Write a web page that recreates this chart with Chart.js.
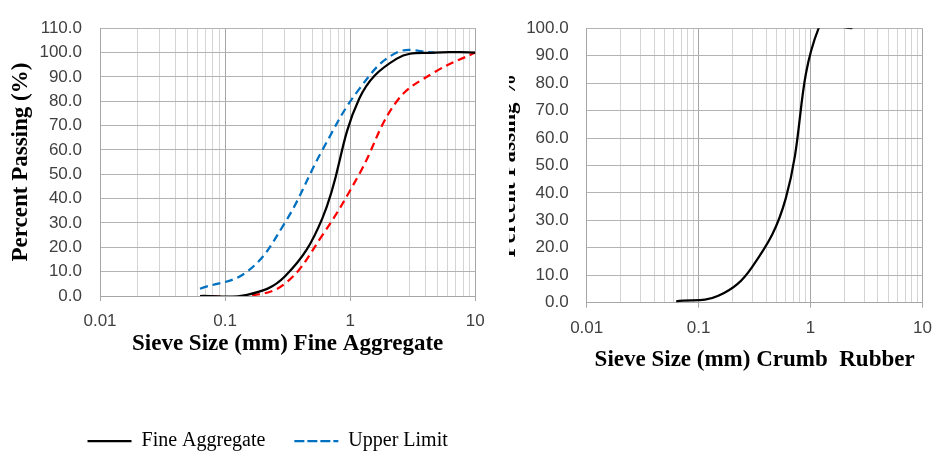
<!DOCTYPE html>
<html>
<head>
<meta charset="utf-8">
<script src="https://cdn.jsdelivr.net/npm/chart.js@4.4.0/dist/chart.umd.min.js"></script>
<style>
html, body { margin: 0; padding: 0; background: #fff; overflow: hidden; }
#wrap { position: relative; width: 942px; height: 454px; }
#chartFA { position: absolute; left: 0; top: 0; }
#chartCR { position: absolute; left: 509px; top: 0; }
</style>
</head>
<body>
<div id="wrap">
  <canvas id="chartFA" width="535" height="461"></canvas>
  <canvas id="chartCR" width="433" height="380"></canvas>
</div>
<script>
// sieve sizes (mm) and percent passing
var sieveFA     = [0.063, 0.15, 0.3, 0.6, 1.18, 2.36, 4.75, 10];
var fineAgg     = [0, 0.5, 8, 32, 81, 97.5, 100, 100];
var lowerLimit  = [0, 0, 5, 25, 50, 80, 92, 100];
var sieveUL     = [0.063, 0.15, 0.3, 0.6, 1.18, 2.36, 4.75];
var upperLimit  = [3, 10, 30, 60, 85, 100, 100];
var sieveCR     = [0.063, 0.15, 0.3, 0.6, 1.18, 2.36];
var crumbRubber = [0.5, 2.5, 13, 38, 100, 100];

var decades     = [0.01, 0.1, 1, 10];
var xTickLabels = ['0.01', '0.1', '1', '10'];

Chart.defaults.font.family = '"Liberation Sans", Arial, sans-serif';

function pts(xs, ys) {
    var out = [];
    for (var i = 0; i < xs.length; i++) out.push({x: xs[i], y: ys[i]});
    return out;
}

function isDecade(v) {
    for (var i = 0; i < decades.length; i++) {
        if (Math.abs(v - decades[i]) < decades[i] * 1e-6) return i;
    }
    return -1;
}

// 1..9 in every decade, like excel log axis gridlines
function logTicks(scale) {
    var t = [];
    for (var d = 0; d < decades.length - 1; d++) {
        for (var m = 1; m < 10; m++) t.push({value: +(decades[d] * m).toPrecision(4)});
    }
    t.push({value: decades[decades.length - 1]});
    scale.ticks = t;
}

var titleFont = {family: '"Liberation Serif", "Times New Roman", serif', size: 23, weight: 'bold'};
var tickFont  = {size: 17};

function xAxis(title, height, titlePad) {
    return {
        type: 'logarithmic',
        min: 0.01,
        max: 10,
        afterBuildTicks: logTicks,
        afterFit: function(s) { s.height = height; },
        ticks: {
            autoSkip: false,
            maxRotation: 0,
            padding: 10,
            color: '#404040',
            font: tickFont,
            callback: function(v) {
                var i = isDecade(v);
                return i >= 0 ? xTickLabels[i] : '';
            }
        },
        grid: {
            tickLength: 5,
            color: function(c) { return isDecade(c.tick.value) >= 0 ? '#a6a6a6' : '#d4d4d4'; },
            tickColor: function(c) { return isDecade(c.tick.value) >= 0 ? '#a6a6a6' : 'rgba(0,0,0,0)'; }
        },
        border: {color: '#a6a6a6'},
        title: {display: true, text: title, color: '#000', font: titleFont, padding: {top: 0, bottom: titlePad}}
    };
}

function yAxis(max, title, width, titlePadTop) {
    return {
        min: 0,
        max: max,
        afterFit: function(s) { s.width = width; },
        ticks: {
            stepSize: 10,
            padding: 18,
            color: '#404040',
            font: tickFont,
            callback: function(v) { return v.toFixed(1); }
        },
        grid: {drawTicks: false, color: '#b3b3b3'},
        border: {color: '#a6a6a6'},
        title: {display: true, text: title, color: '#000', font: titleFont, padding: {top: titlePadTop, bottom: 0}}
    };
}

// the legend sits a bit right of centre in the original
var legendShift = {
    id: 'legendShift',
    afterLayout: function(chart) {
        if (!chart.legend) return;
        chart.legend.left += 30;
        chart.legend.right += 30;
    }
};

var chartFA = new Chart(document.getElementById('chartFA'), {
    type: 'line',
    data: {
        datasets: [{
            label: 'Fine Aggregate',
            data: pts(sieveFA, fineAgg),
            borderColor: '#000000',
            backgroundColor: '#000000',
            borderWidth: 2.25,
            pointRadius: 0,
            tension: 0.4,
            capBezierPoints: false
        }, {
            label: 'Upper Limit',
            data: pts(sieveUL, upperLimit),
            borderColor: '#0070c0',
            backgroundColor: '#0070c0',
            borderWidth: 2.25,
            borderDash: [8, 5],
            pointRadius: 0,
            tension: 0.4,
            capBezierPoints: false
        }, {
            label: 'Lower Limit',
            data: pts(sieveFA, lowerLimit),
            borderColor: '#ff0000',
            backgroundColor: '#ff0000',
            borderWidth: 2.25,
            borderDash: [8, 5],
            pointRadius: 0,
            tension: 0.4,
            capBezierPoints: false
        }]
    },
    options: {
        responsive: false,
        animation: false,
        layout: {padding: {top: 16, right: 59.7, left: 0, bottom: 0}},
        scales: {
            x: xAxis('Sieve Size (mm) Fine Aggregate', 106, 43.8),
            y: yAxis(110, 'Percent Passing (%)', 100, 7)
        },
        plugins: {
            tooltip: {enabled: false},
            legend: {
                position: 'bottom',
                align: 'center',
                labels: {
                    boxWidth: 44,
                    boxHeight: 0,
                    padding: 29,
                    color: '#000',
                    font: {family: '"Liberation Serif", "Times New Roman", serif', size: 20},
                    filter: function(item) { return item.datasetIndex !== 2; }
                }
            }
        }
    },
    plugins: [legendShift]
});

var chartCR = new Chart(document.getElementById('chartCR'), {
    type: 'line',
    data: {
        datasets: [{
            label: 'Crumb Rubber',
            data: pts(sieveCR, crumbRubber),
            borderColor: '#000000',
            backgroundColor: '#000000',
            borderWidth: 2.25,
            pointRadius: 0,
            tension: 0.4,
            capBezierPoints: false
        }]
    },
    options: {
        responsive: false,
        animation: false,
        layout: {padding: {top: 24.7, right: 18, left: 0, bottom: 0}},
        scales: {
            x: xAxis('Sieve Size (mm) Crumb  Rubber', 77.3, 5.8),
            y: yAxis(100, 'Percent Passing %', 77.7, -13.5)
        },
        plugins: {
            tooltip: {enabled: false},
            legend: {display: false}
        }
    }
});
</script>
</body>
</html>
